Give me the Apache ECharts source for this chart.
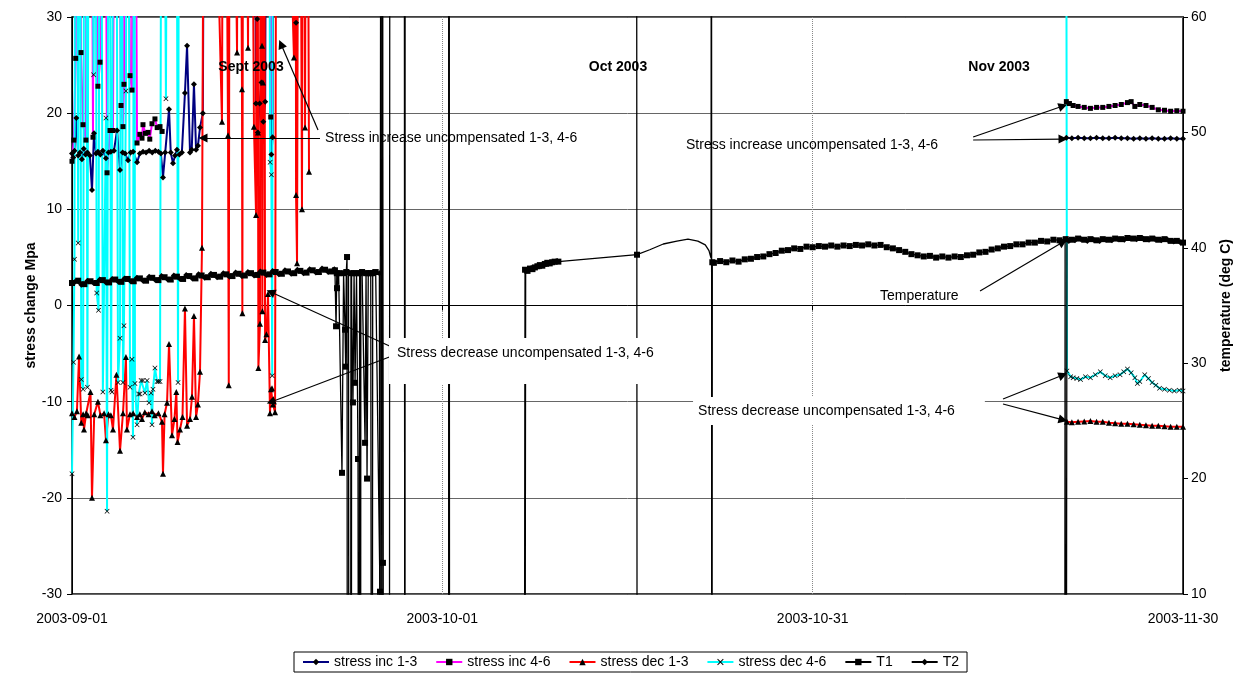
<!DOCTYPE html>
<html><head><meta charset="utf-8">
<script src="https://cdn.jsdelivr.net/npm/echarts@6/dist/echarts.min.js"></script>
<style>html,body{margin:0;padding:0;background:#fff}#c{width:1242px;height:677px}</style>
</head><body><div id="c"></div><script>
// ---------- DATA (x = days since 2003-09-01) ----------
const xTickLabels = ['2003-09-01', '2003-10-01', '2003-10-31', '2003-11-30'];
const seriesNames = ['stress inc 1-3', 'stress inc 4-6', 'stress dec 1-3', 'stress dec 4-6', 'T1', 'T2'];
const GAP = '-';

// stress inc 1-3 (MPa)
const incA_sep = [[0.0,15.8],[0.1,15.4],[0.2,16.1],[0.35,19.5],[0.5,15.6],[0.65,15.9],[0.8,15.2],[0.95,16.3],[1.1,15.7],[1.25,15.9],[1.45,15.6],[1.62,12.0],[1.78,17.9],[1.95,15.8],[2.1,16.0],[2.3,15.7],[2.5,16.1],[2.75,15.3],[2.95,15.9],[3.15,16.0],[3.4,16.1],[3.65,18.2],[3.89,14.1],[4.1,15.9],[4.3,15.8],[4.54,15.1],[4.75,15.9],[4.95,16.0],[5.27,14.9],[5.5,15.8],[5.75,16.0],[6.0,15.9],[6.25,16.1],[6.5,15.9],[6.75,16.1],[7.0,16.0],[7.2,15.8],[7.37,13.3],[7.55,15.9],[7.86,20.4],[8.0,15.9],[8.18,14.8],[8.35,15.6],[8.5,16.2],[8.7,15.7],[8.9,15.9],[9.15,22.1],[9.32,27.0],[9.56,15.9],[9.7,16.2],[9.88,23.0],[10.05,16.2],[10.2,16.6],[10.37,18.5],[10.6,20.0],[10.8,90],[14.7,90],[14.9,21.0],[15.0,29.8],[15.05,18.0],[15.2,21.0],[15.35,23.2],[15.5,19.1],[15.65,21.2],[15.8,90],[16.05,90],[16.15,15.7],[16.25,17.5],[16.35,90],[18.0,90],[18.15,29.4],[18.3,90],[18.5,GAP]];
const incA_nov = [[80.55,17.45],[81,17.4],[81.5,17.45],[82,17.4],[82.5,17.4],[83,17.45],[83.5,17.4],[84,17.4],[84.5,17.45],[85,17.4],[85.5,17.4],[86,17.35],[86.5,17.4],[87,17.35],[87.5,17.4],[88,17.35],[88.5,17.35],[89,17.4],[89.5,17.35],[90,17.35]];

// stress inc 4-6 (MPa)
const incB_sep = [[0.0,15.0],[0.15,17.2],[0.3,25.7],[0.45,90],[0.73,26.3],[0.89,18.8],[1.13,17.2],[1.25,90],[1.5,90],[1.7,17.5],[1.85,90],[2.1,22.8],[2.27,25.3],[2.4,90],[2.6,90],[2.84,13.8],[3.08,18.2],[3.32,18.2],[3.55,90],[3.97,20.8],[4.13,18.6],[4.21,23.0],[4.4,90],[4.7,23.9],[4.86,22.4],[5.0,90],[5.27,16.9],[5.5,17.8],[5.67,17.4],[5.75,18.8],[5.95,17.9],[6.16,18.0],[6.3,17.3],[6.48,18.9],[6.72,19.4],[6.9,18.5],[7.13,18.6],[7.3,18.1],[7.4,GAP],[15.95,90],[16.1,19.6],[16.2,90],[16.3,GAP]];
const incB_nov = [[80.55,21.2],[80.8,21.0],[81.1,20.8],[81.5,20.7],[82,20.6],[82.5,20.5],[83,20.6],[83.5,20.6],[84,20.7],[84.5,20.8],[85,20.9],[85.5,21.1],[85.8,21.2],[86.1,20.7],[86.5,20.9],[87,20.8],[87.5,20.6],[88,20.35],[88.5,20.3],[89,20.2],[89.5,20.25],[90,20.2]];

// stress dec 1-3 (MPa)
const decA_sep = [[0.0,-11.2],[0.2,-11.6],[0.4,-11.0],[0.57,-5.3],[0.75,-12.2],[0.9,-11.3],[0.97,-12.9],[1.15,-11.2],[1.28,-11.4],[1.5,-9.0],[1.62,-20.0],[1.8,-11.3],[2.1,-10.0],[2.3,-11.4],[2.6,-11.2],[2.75,-14.0],[2.95,-11.3],[3.15,-11.4],[3.32,-12.9],[3.6,-7.2],[3.89,-15.1],[4.13,-11.2],[4.37,-5.35],[4.45,-12.9],[4.7,-11.3],[4.95,-11.2],[5.27,-11.6],[5.5,-11.3],[5.67,-11.8],[5.9,-11.1],[6.2,-11.3],[6.48,-11.0],[6.7,-11.4],[7.0,-11.2],[7.29,-12.1],[7.37,-17.5],[7.5,-11.3],[7.7,-10.1],[7.86,-4.0],[8.1,-13.5],[8.3,-11.8],[8.45,-9.0],[8.55,-14.2],[8.75,-12.9],[8.95,-11.6],[9.15,-0.3],[9.32,-12.5],[9.56,-11.8],[9.72,-9.5],[9.88,-1.1],[10.05,-11.6],[10.2,-10.3],[10.37,-6.9],[10.53,6.0],[10.8,90],
  [12.15,19.1],[12.3,90],[12.64,17.7],[12.7,-8.3],[12.8,90],[13.37,26.3],[13.5,90],[13.77,22.5],[13.8,-0.8],[13.9,90],[14.26,26.8],[14.4,90],[14.74,18.6],[14.91,9.4],[15.0,90],[15.07,18.0],[15.1,-6.5],[15.23,-1.9],[15.3,90],[15.39,27.0],[15.42,-0.6],[15.47,23.2],[15.55,90],[15.64,-3.6],[15.75,-3.0],[15.88,1.2],[16.04,-11.2],[16.12,-8.7],[16.2,-8.6],[16.28,-10.3],[16.45,-11.1],[16.6,90],[17.98,25.8],[18.1,90],[18.15,11.5],[18.23,4.4],[18.4,90],[18.63,10.0],[18.75,90],[18.88,18.5],[19.0,90],[19.2,13.9],[19.4,GAP]];
const decA_nov = [[80.6,-12.1],[81,-12.15],[81.5,-12.1],[82,-12.05],[82.5,-12.0],[83,-12.1],[83.5,-12.1],[84,-12.2],[84.5,-12.25],[85,-12.3],[85.5,-12.3],[86,-12.35],[86.5,-12.4],[87,-12.45],[87.5,-12.5],[88,-12.5],[88.5,-12.55],[89,-12.6],[89.5,-12.6],[90,-12.6]];

// stress dec 4-6 (MPa)
const decB_sep = [[0.0,-17.5],[0.12,-5.9],[0.2,4.8],[0.3,90],[0.5,6.5],[0.6,90],[0.75,-7.7],[0.9,-8.7],[1.05,90],[1.25,-8.5],[1.4,90],[1.75,24.0],[1.85,90],[2.0,1.3],[2.15,-0.5],[2.3,90],[2.5,-9.0],[2.75,19.5],[2.84,-21.4],[3.0,90],[3.16,-8.8],[3.24,-9.0],[3.5,90],[3.73,-8.0],[3.89,-3.4],[4.0,90],[4.13,-8.0],[4.21,-2.1],[4.37,22.3],[4.5,90],[4.7,-8.5],[4.86,-5.6],[4.94,-13.7],[5.05,90],[5.1,-8.1],[5.27,-12.4],[5.4,-9.2],[5.51,-9.2],[5.6,-7.8],[5.75,-7.8],[5.91,-9.1],[6.08,-7.8],[6.24,-10.1],[6.4,-9.1],[6.48,-12.4],[6.56,-8.7],[6.72,-6.5],[6.89,-7.9],[7.0,-7.9],[7.13,-7.9],[7.3,90],[7.61,21.5],[7.8,90],[8.4,90],[8.59,-8.0],[8.7,90],[8.8,GAP],[15.9,90],[16.05,14.9],[16.15,13.6],[16.22,-7.3],[16.3,90],[16.4,GAP]];
const decB_nov = [[80.5,90],[80.6,-6.8],[80.9,-7.4],[81.1,-7.5],[81.4,-7.6],[81.7,-7.7],[82.1,-7.4],[82.5,-7.5],[82.9,-7.2],[83.3,-6.9],[83.7,-7.3],[84.1,-7.5],[84.5,-7.3],[84.9,-7.2],[85.2,-6.9],[85.5,-6.6],[85.8,-7.0],[86.1,-7.5],[86.3,-8.1],[86.5,-7.9],[86.9,-7.2],[87.2,-7.6],[87.5,-8.0],[87.8,-8.3],[88.1,-8.6],[88.5,-8.7],[88.9,-8.8],[89.3,-8.9],[89.7,-8.8],[90,-8.9]];

// T1 (deg C)
const T1_sep = [[0,36.95],[0.5,37.15],[1,36.85],[1.5,37.1],[2,36.95],[2.5,37.2],[3,37.0],[3.5,37.25],[4,37.05],[4.5,37.3],[5,37.1],[5.5,37.35],[6,37.15],[6.5,37.4],[7,37.2],[7.5,37.45],[8,37.25],[8.5,37.5],[9,37.3],[9.5,37.55],[10,37.35],[10.5,37.6],[11,37.45],[11.5,37.65],[12,37.5],[12.5,37.7],[13,37.55],[13.5,37.75],[14,37.6],[14.5,37.8],[15,37.65],[15.5,37.85],[16,37.7],[16.5,37.9],[17,37.75],[17.5,37.95],[18,37.8],[18.5,38.0],[19,37.85],[19.5,38.05],[20,37.9],[20.5,38.1],[21,37.95],[21.3,38.05]];
const T1_spikes = [[21.39,33.2],[21.45,37.8],[21.47,36.5],[21.6,37.8],[21.87,20.5],[22.0,37.8],[22.12,32.9],[22.17,29.7],[22.22,37.9],[22.28,39.2],[22.32,-50],[22.55,-50],[22.6,37.8],[22.76,26.6],[22.85,37.8],[22.93,28.3],[23.05,37.8],[23.17,21.7],[23.25,-50],[23.3,37.8],[23.5,37.9],[23.74,23.1],[23.82,37.8],[23.9,20.0],[24.0,37.8],[24.2,37.8],[24.3,-50],[24.36,37.8],[24.6,37.9],[24.95,10.2],[25.05,120],[25.19,12.7],[25.25,-50],[25.7,-50],[25.76,120],[26.9,120],[26.98,-50],[30.5,-50],[30.54,120],[30.6,-50],[36.6,-50]];
const T1_oct = [[36.7,38.1],[36.9,38.0],[37.1,38.2],[37.3,38.15],[37.5,38.3],[37.7,38.4],[37.9,38.5],[38.1,38.45],[38.3,38.6],[38.5,38.7],[38.7,38.65],[38.9,38.75],[39.1,38.8],[39.4,38.8],[45.77,39.4]];
const T1_curve = [[46.8,39.83],[47.9,40.33],[49.0,40.58],[49.9,40.75],[50.7,40.58],[51.3,40.25],[51.6,39.75],[51.77,39.08]];
const T1_late = [[51.8,120],[51.83,-50],[51.87,38.75],[52,38.7],[52.5,38.85],[53,38.75],[53.5,38.9],[54,38.8],[54.5,39.0],[55,39.05],[55.5,39.2],[56,39.25],[56.5,39.45],[57,39.55],[57.5,39.75],[58,39.8],[58.5,39.95],[59,39.9],[59.5,40.1],[60,40.05],[60.5,40.15],[61,40.1],[61.5,40.2],[62,40.1],[62.5,40.2],[63,40.15],[63.5,40.25],[64,40.2],[64.5,40.3],[65,40.2],[65.5,40.25],[66,40.05],[66.5,39.95],[67,39.8],[67.5,39.65],[68,39.45],[68.5,39.35],[69,39.25],[69.5,39.3],[70,39.15],[70.5,39.25],[71,39.15],[71.5,39.25],[72,39.2],[72.5,39.35],[73,39.4],[73.5,39.6],[74,39.65],[74.5,39.85],[75,39.95],[75.5,40.1],[76,40.15],[76.5,40.3],[77,40.3],[77.5,40.45],[78,40.45],[78.5,40.6],[79,40.55],[79.5,40.7],[80,40.65],[80.5,40.75],[81,40.7],[81.5,40.8],[82,40.7],[82.5,40.75],[83,40.65],[83.5,40.75],[84,40.7],[84.5,40.8],[85,40.75],[85.5,40.85],[86,40.8],[86.5,40.85],[87,40.75],[87.5,40.8],[88,40.7],[88.5,40.75],[89,40.6],[89.5,40.6],[90,40.45]];

// T2 (deg C)
const T2_sep = [[0.25,37.05],[0.75,36.8],[1.25,37.15],[1.75,36.95],[2.25,37.25],[2.75,37.0],[3.25,37.3],[3.75,37.05],[4.25,37.35],[4.75,37.1],[5.25,37.4],[5.75,37.15],[6.25,37.5],[6.75,37.2],[7.25,37.55],[7.75,37.25],[8.25,37.6],[8.75,37.3],[9.25,37.65],[9.75,37.35],[10.25,37.7],[10.75,37.4],[11.25,37.75],[11.75,37.45],[12.25,37.8],[12.75,37.5],[13.25,37.85],[13.75,37.55],[14.25,37.9],[14.75,37.6],[15.25,37.95],[15.75,37.65],[16.25,38.0],[16.75,37.7],[17.25,38.05],[17.75,37.75],[18.25,38.1],[18.75,37.8],[19.25,38.15],[19.75,37.85],[20.25,38.2],[20.75,37.9],[21.25,38.15]];
const T2_spikes = [[21.5,37.7],[22.4,37.9],[22.45,-50],[22.62,-50],[22.65,37.8],[23.33,37.85],[23.36,-50],[23.4,37.8],[24.38,37.9],[24.9,37.8],[25.0,-50],[25.15,120],[25.22,-50],[26.95,-50],[27.0,120],[30.5,120],[30.56,-50],[36.65,-50],[36.75,38.0],[37.0,38.1],[37.2,38.25],[37.4,38.2],[37.6,38.35],[37.8,38.45],[38.0,38.4],[38.2,38.55],[38.4,38.65],[38.6,38.6],[38.8,38.7],[39.0,38.75],[39.3,38.85],[39.45,GAP],[45.72,120],[45.8,-50],[45.9,GAP]];
const T2_nov = [[80.4,-50],[80.45,40.7],[80.5,-50],[80.6,40.75],[80.75,40.6],[81.25,40.65],[81.75,40.75],[82.25,40.6],[82.75,40.7],[83.25,40.6],[83.75,40.7],[84.25,40.65],[84.75,40.75],[85.25,40.7],[85.75,40.8],[86.25,40.75],[86.75,40.8],[87.25,40.7],[87.75,40.75],[88.25,40.65],[88.75,40.7],[89.25,40.55],[89.75,40.5]];

// annotation texts and their anchors [day, MPa]
const monthLabels = [['Sept 2003',14.5,24.8],['Oct 2003',44.23,24.8],['Nov 2003',75.1,24.8]];
const noteText = 'Stress increase uncompensated 1-3, 4-6';
const noteTextDec = 'Stress decrease uncompensated 1-3, 4-6';
const notes = [
  [noteText, 20.5, 17.42, null],
  [noteTextDec + '\n ', 25.68, -5.77, [7, 38, 7, 8]],
  [noteText, 49.74, 16.69, null],
  ['Temperature', 65.46, 0.99, null],
  [noteTextDec, 50.31, -10.97, [6, 30, 6, 5]]
];
const arrows = [
  [[20.09,17.42],[10.61,17.42]],
  [[19.93,18.25],[16.93,27.19]],
  [[25.9,-4.31],[16.1,1.4]],
  [[25.92,-5.25],[16.12,-10.03]],
  [[73.0,17.52],[80.28,20.75]],
  [[73.0,17.21],[80.28,17.31]],
  [[73.56,1.51],[80.28,6.6]],
  [[75.42,-9.72],[80.28,-7.23]],
  [[75.42,-10.24],[80.28,-11.9]]
];

// ---------- CHART ----------
const FONT = '"Liberation Sans", Arial, sans-serif';
const noSym = arr => arr.map(p => ({ value: p, symbol: 'none' }));
const xMark = 'path://M0,1L1,0L5,4L9,0L10,1L6,5L10,9L9,10L5,6L1,10L0,9L4,5Z';

function lineSeries(name, color, symbol, size, data, yIdx, width) {
  return {
    name, type: 'line', yAxisIndex: yIdx, data,
    symbol, symbolSize: size, showAllSymbol: true, clip: true,
    lineStyle: { color, width },
    itemStyle: { color: '#000' },
    emphasis: { disabled: true }
  };
}

const markPointData = [];
monthLabels.forEach(m => markPointData.push({
  coord: [m[1], m[2]], symbol: 'rect', symbolSize: 0,
  label: { show: true, formatter: m[0], position: 'inside', align: 'center', verticalAlign: 'middle',
    fontFamily: FONT, fontSize: 14, fontWeight: 'bold', color: '#000' }
}));
notes.forEach(n => markPointData.push({
  coord: [n[1], n[2]], symbol: 'rect', symbolSize: 0,
  label: Object.assign({ show: true, formatter: n[0], position: 'right', distance: 0,
    align: 'left', verticalAlign: 'middle', fontFamily: FONT, fontSize: 14, lineHeight: 16, color: '#000' },
    n[3] ? { backgroundColor: '#fff', padding: n[3] } : {})
}));

const chart = echarts.init(document.getElementById('c'), null, { renderer: 'canvas' });
chart.setOption({
  animation: false,
  backgroundColor: '#fff',
  textStyle: { fontFamily: FONT },
  grid: { left: 72, right: 59, top: 17, bottom: 83, show: true, borderColor: '#000', borderWidth: 1.5, backgroundColor: 'transparent' },
  legend: {
    data: seriesNames, left: 294, bottom: 5, padding: [3, 8, 3, 8], itemGap: 18,
    itemWidth: 26, itemHeight: 8, borderColor: '#000', borderWidth: 1,
    textStyle: { fontFamily: FONT, fontSize: 14, color: '#000' }
  },
  xAxis: {
    type: 'value', min: 0, max: 90, interval: 30,
    axisLine: { lineStyle: { color: '#000', width: 1 } },
    axisTick: { show: true, length: 5, lineStyle: { color: '#000' } },
    axisLabel: { formatter: v => xTickLabels[Math.round(v / 30)], fontSize: 14, color: '#000', margin: 18, fontFamily: FONT },
    splitLine: { show: true, lineStyle: { color: '#888', type: 'dotted', width: 1 } }
  },
  yAxis: [
    {
      type: 'value', min: -30, max: 30, interval: 10, position: 'left',
      name: 'stress change Mpa', nameLocation: 'middle', nameRotate: 90, nameGap: 34, nameMoveOverlap: false,
      nameTextStyle: { fontFamily: FONT, fontSize: 14, fontWeight: 'bold', color: '#000' },
      axisLine: { show: true, lineStyle: { color: '#000', width: 1 } },
      axisTick: { show: true, length: 5, lineStyle: { color: '#000' } },
      axisLabel: { fontSize: 14, color: '#000', margin: 10, fontFamily: FONT },
      splitLine: { show: true, lineStyle: { color: '#666', width: 1 } }
    },
    {
      type: 'value', min: 10, max: 60, interval: 10, position: 'right',
      name: 'temperature (deg C)', nameLocation: 'middle', nameRotate: 90, nameGap: 36,
      nameTextStyle: { fontFamily: FONT, fontSize: 14, fontWeight: 'bold', color: '#000' },
      axisLine: { show: true, lineStyle: { color: '#000', width: 1 } },
      axisTick: { show: true, length: 5, lineStyle: { color: '#000' } },
      axisLabel: { fontSize: 14, color: '#000', margin: 8, fontFamily: FONT },
      splitLine: { show: false }
    }
  ],
  series: [
    lineSeries(seriesNames[0], '#000080', 'diamond', 6, [...incA_sep, ...incA_nov], 0, 2),
    lineSeries(seriesNames[1], '#FF00FF', 'rect', 5, [...incB_sep, ...incB_nov], 0, 2),
    lineSeries(seriesNames[2], '#FF0000', 'triangle', 6, [...decA_sep, ...decA_nov], 0, 2),
    lineSeries(seriesNames[3], '#00FFFF', xMark, 5, [...decB_sep, ...decB_nov], 0, 2),
    lineSeries(seriesNames[4], '#000', 'rect', 6, [...T1_sep, ...T1_spikes, ...T1_oct, ...noSym(T1_curve), ...T1_late], 1, 1.3),
    lineSeries(seriesNames[5], '#000', 'diamond', 6, [...T2_sep, ...T2_spikes, ...T2_nov], 1, 1.3),
    {
      name: 'annotations', type: 'line', yAxisIndex: 0, data: [], silent: true,
      itemStyle: { color: '#000' }, lineStyle: { color: '#000' },
      markPoint: { silent: true, data: markPointData, animation: false },
      markLine: {
        silent: true, animation: false, symbol: ['none', 'triangle'], symbolSize: 9,
        itemStyle: { color: '#000' },
        lineStyle: { color: '#000', width: 1.2, type: 'solid' }, label: { show: false },
        data: arrows.map(a => [{ coord: a[0] }, { coord: a[1] }])
      }
    }
  ]
});
</script></body></html>
